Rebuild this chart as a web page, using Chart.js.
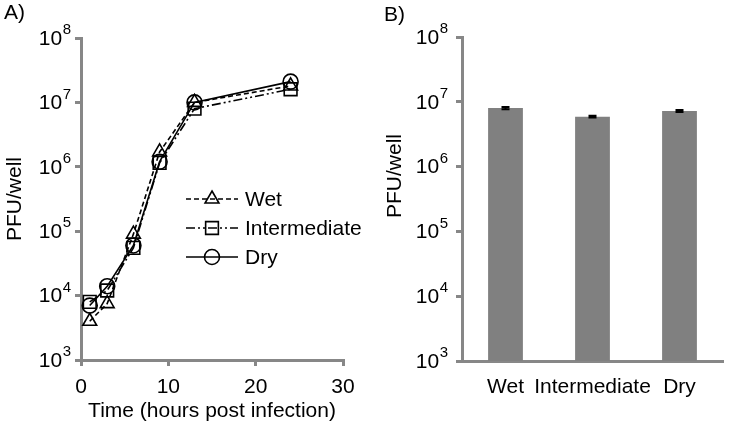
<!DOCTYPE html>
<html>
<head>
<meta charset="utf-8">
<script src="https://cdn.jsdelivr.net/npm/chart.js@4.4.0/dist/chart.umd.min.js"></script>
<style>
    html, body { margin: 0; padding: 0; background: #ffffff; }
    #wrap { position: relative; width: 729px; height: 428px; }
    .panel { position: absolute; top: 0; height: 428px; }
    #panelA { left: 0; width: 365px; }
    #panelB { left: 365px; width: 364px; }
</style>
</head>
<body>
<div id="wrap">
    <div class="panel" id="panelA"><canvas id="curvaChart"></canvas></div>
    <div class="panel" id="panelB"><canvas id="barrasChart"></canvas></div>
</div>
<script>
// Datos
const horas = [1, 3, 6, 9, 13, 24];
const pfuWet = [4000, 7500, 90000, 1700000, 10000000, 18000000];
const pfuIntermediate = [8000, 12000, 55000, 1150000, 8000000, 16000000];
const pfuDry = [7000, 14000, 60000, 1200000, 10000000, 21000000];

const condiciones = ['Wet', 'Intermediate', 'Dry'];
const pfuFinal = [8000000, 5900000, 7200000];
const errorFinal = [300000, 200000, 250000];

const ticksX = [0, 10, 20, 30];
const ticksY = [1e3, 1e4, 1e5, 1e6, 1e7, 1e8];

const GRIS_EJE = '#878787';
const FUENTE = '"Liberation Sans", Arial, sans-serif';
const TAM = 21;

Chart.defaults.font.family = FUENTE;
Chart.defaults.color = '#000000';
Chart.defaults.animation = false;

// Etiquetas 10^n con exponente elevado
const etiquetasPotencia = {
    id: 'etiquetasPotencia',
    afterDraw(chart, args, opts) {
        const escala = chart.scales.y;
        const ctx = chart.ctx;
        ctx.save();
        ctx.fillStyle = '#000000';
        ctx.textBaseline = 'middle';
        ctx.textAlign = 'right';
        escala.ticks.forEach(t => {
            const py = escala.getPixelForValue(t.value);
            const exp = String(Math.round(Math.log10(t.value)));
            const xr = escala.right - opts.gap;
            ctx.font = '15px ' + FUENTE;
            const anchoExp = ctx.measureText(exp).width;
            ctx.fillText(exp, xr, py - 8);
            ctx.font = TAM + 'px ' + FUENTE;
            ctx.fillText('10', xr - anchoExp - 0.5, py + 1);
        });
        ctx.restore();
    }
};

// Letra del panel y título de eje opcional
const textosPanel = {
    id: 'textosPanel',
    afterDraw(chart, args, opts) {
        const ctx = chart.ctx;
        ctx.save();
        ctx.fillStyle = '#000000';
        ctx.font = TAM + 'px ' + FUENTE;
        ctx.textBaseline = 'middle';
        ctx.textAlign = 'left';
        ctx.fillText(opts.letra, opts.letraX, opts.letraY);
        if (opts.tituloY) {
            ctx.translate(opts.tituloX, opts.tituloYpos);
            ctx.rotate(-Math.PI / 2);
            ctx.textAlign = 'center';
            ctx.fillText(opts.tituloY, 0, 0);
        }
        ctx.restore();
    }
};

// Leyenda con línea + marcador
const leyendaLineas = {
    id: 'leyendaLineas',
    afterDraw(chart, args, opts) {
        const ctx = chart.ctx;
        chart.data.datasets.forEach((ds, i) => {
            const y = opts.y0 + i * opts.paso;
            ctx.save();
            ctx.strokeStyle = ds.borderColor;
            ctx.lineWidth = ds.borderWidth;
            ctx.setLineDash(ds.borderDash || []);
            ctx.beginPath();
            ctx.moveTo(opts.x0, y);
            ctx.lineTo(opts.x1, y);
            ctx.stroke();
            ctx.setLineDash([]);
            ctx.fillStyle = 'rgba(0,0,0,0)';
            ctx.lineWidth = ds.pointBorderWidth;
            Chart.helpers.drawPoint(ctx, {
                pointStyle: ds.pointStyle,
                radius: ds.pointRadius,
                rotation: 0,
                borderWidth: ds.pointBorderWidth
            }, (opts.x0 + opts.x1) / 2, y);
            ctx.fillStyle = '#000000';
            ctx.font = TAM + 'px ' + FUENTE;
            ctx.textBaseline = 'middle';
            ctx.textAlign = 'left';
            ctx.fillText(ds.label, opts.xTexto, y + 1);
            ctx.restore();
        });
    }
};

// Barras de error pequeñas
const barrasError = {
    id: 'barrasError',
    afterDatasetsDraw(chart) {
        const ctx = chart.ctx;
        const escala = chart.scales.y;
        const meta = chart.getDatasetMeta(0);
        ctx.save();
        ctx.strokeStyle = '#000000';
        ctx.lineWidth = 2;
        meta.data.forEach((barra, i) => {
            const arriba = escala.getPixelForValue(pfuFinal[i] + errorFinal[i]);
            const abajo = escala.getPixelForValue(pfuFinal[i] - errorFinal[i]);
            ctx.beginPath();
            ctx.moveTo(barra.x, arriba);
            ctx.lineTo(barra.x, abajo);
            ctx.moveTo(barra.x - 4, arriba);
            ctx.lineTo(barra.x + 4, arriba);
            ctx.moveTo(barra.x - 4, abajo);
            ctx.lineTo(barra.x + 4, abajo);
            ctx.stroke();
        });
        ctx.restore();
    }
};

function serie(valores) {
    return horas.map((h, i) => ({ x: h, y: valores[i] }));
}

function ejeLog(ancho) {
    return {
        type: 'logarithmic',
        min: 1e3,
        max: 1e8,
        afterBuildTicks: escala => { escala.ticks = ticksY.map(v => ({ value: v })); },
        afterFit: escala => { escala.width = ancho; },
        ticks: { display: false },
        grid: { drawOnChartArea: false, drawTicks: true, tickLength: 6, color: GRIS_EJE, lineWidth: 3 },
        border: { color: GRIS_EJE, width: 3 }
    };
}

function crearCurva() {
    const ctx = document.getElementById('curvaChart').getContext('2d');
    const marcador = { pointBackgroundColor: 'rgba(0,0,0,0)', pointBorderColor: '#000000', pointBorderWidth: 1.6 };
    return new Chart(ctx, {
        type: 'line',
        data: {
            datasets: [
                Object.assign({ label: 'Wet', data: serie(pfuWet), borderColor: '#000000', borderWidth: 1.6,
                    borderDash: [5, 3], pointStyle: 'triangle', pointRadius: 8 }, marcador),
                Object.assign({ label: 'Intermediate', data: serie(pfuIntermediate), borderColor: '#000000', borderWidth: 1.6,
                    borderDash: [9, 3, 2, 3, 2, 3], pointStyle: 'rect', pointRadius: 9 }, marcador),
                Object.assign({ label: 'Dry', data: serie(pfuDry), borderColor: '#000000', borderWidth: 1.6,
                    pointStyle: 'circle', pointRadius: 7.5 }, marcador)
            ]
        },
        options: {
            responsive: true,
            maintainAspectRatio: false,
            layout: { padding: { left: 0, right: 22, top: 38, bottom: 0 } },
            plugins: {
                legend: { display: false },
                tooltip: { enabled: false },
                etiquetasPotencia: { gap: 10 },
                textosPanel: { letra: 'A)', letraX: 4, letraY: 13 },
                leyendaLineas: { x0: 186, x1: 238, xTexto: 245, y0: 199, paso: 29 }
            },
            scales: {
                x: {
                    type: 'linear',
                    min: 0,
                    max: 30,
                    afterBuildTicks: escala => { escala.ticks = ticksX.map(v => ({ value: v })); },
                    afterFit: escala => { escala.height = 68; },
                    ticks: { font: { size: TAM }, padding: 9, maxRotation: 0 },
                    grid: { drawOnChartArea: false, drawTicks: true, tickLength: 6, color: GRIS_EJE, lineWidth: 3 },
                    border: { color: GRIS_EJE, width: 3 },
                    title: { display: true, text: 'Time (hours post infection)', font: { size: TAM }, padding: { top: 0, bottom: 4 } }
                },
                y: Object.assign(ejeLog(81), {
                    title: { display: true, text: 'PFU/well', font: { size: TAM }, padding: { top: 3, bottom: 0 } }
                })
            }
        },
        plugins: [etiquetasPotencia, textosPanel, leyendaLineas]
    });
}

function crearBarras() {
    const ctx = document.getElementById('barrasChart').getContext('2d');
    return new Chart(ctx, {
        type: 'bar',
        data: {
            labels: condiciones,
            datasets: [{
                label: 'PFU/well',
                data: pfuFinal,
                backgroundColor: '#808080',
                borderWidth: 0,
                barPercentage: 0.4,
                categoryPercentage: 1
            }]
        },
        options: {
            responsive: true,
            maintainAspectRatio: false,
            layout: { padding: { left: 0, right: 6, top: 37, bottom: 0 } },
            plugins: {
                legend: { display: false },
                tooltip: { enabled: false },
                etiquetasPotencia: { gap: 14 },
                textosPanel: { letra: 'B)', letraX: 19, letraY: 15, tituloY: 'PFU/well', tituloX: 30, tituloYpos: 176 }
            },
            scales: {
                x: {
                    afterFit: escala => { escala.height = 67; },
                    ticks: { font: { size: TAM }, padding: 14, maxRotation: 0, autoSkip: false },
                    grid: { drawOnChartArea: false, drawTicks: false },
                    border: { color: GRIS_EJE, width: 3 }
                },
                y: ejeLog(97)
            }
        },
        plugins: [etiquetasPotencia, textosPanel, barrasError]
    });
}

crearCurva();
crearBarras();
</script>
</body>
</html>
